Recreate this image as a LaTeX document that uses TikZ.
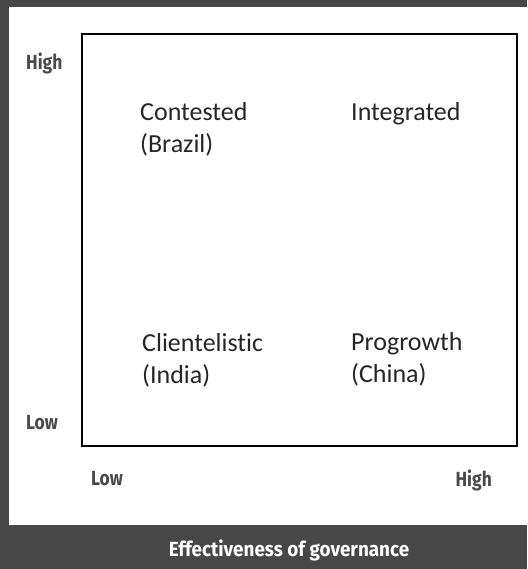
\documentclass[tikz,border=0pt]{standalone}
\usepackage{fontspec}
\setmainfont{Carlito}[Ligatures={NoCommon,NoRare}]
\newfontfamily\axisfont[FakeStretch=0.85]{Fira Sans}
\newfontfamily\titlefont[FakeStretch=0.92]{Fira Sans}
\usetikzlibrary{positioning}

\definecolor{framegray}{HTML}{474747}
\definecolor{labelgray}{HTML}{4A4A4A}

\begin{document}
\begin{tikzpicture}[x=1pt,y=-1pt,
    quad/.style={anchor=base west,inner sep=0pt,align=left,
      font=\fontsize{26}{32}\selectfont,text=black!85},
    axislabel/.style={anchor=base west,inner sep=0pt,
      font=\axisfont\bfseries\fontsize{20.5}{24}\selectfont,text=labelgray}]
    % page and panel
    \fill[framegray] (0,0) rectangle (527,569);
    \fill[white] (9,7) rectangle (527,525);

    % the 2x2 grid
    \node[draw,line width=2pt,anchor=north west,inner sep=0pt,
      minimum width=435,minimum height=412] (grid) at (81,33) {};

    % base of a two-line node is its last line
    \node[quad] (contested) at (140,152.5) {Contested\\(Brazil)};
    \node[quad] (integrated) at (351,120.5) {Integrated};
    \node[quad] (clientelistic) at (142,383.5) {Clientelistic\\(India)};
    \node[quad] (progrowth) at (351,382.5) {Progrowth\\(China)};

    % axis ends
    \node[axislabel] (yhigh) at (26,70) {High};
    \node[axislabel] (ylow) at (26,429) {Low};
    \node[axislabel] (xlow) at (91,485) {Low};
    \node[axislabel,anchor=base east] (xhigh) at (492,486) {High};

    \node[axislabel,anchor=base,text=white,font=\titlefont\bfseries\fontsize{20.5}{24}\selectfont]
      (xtitle) at (289,556) {Effectiveness of governance};
\end{tikzpicture}
\end{document}
